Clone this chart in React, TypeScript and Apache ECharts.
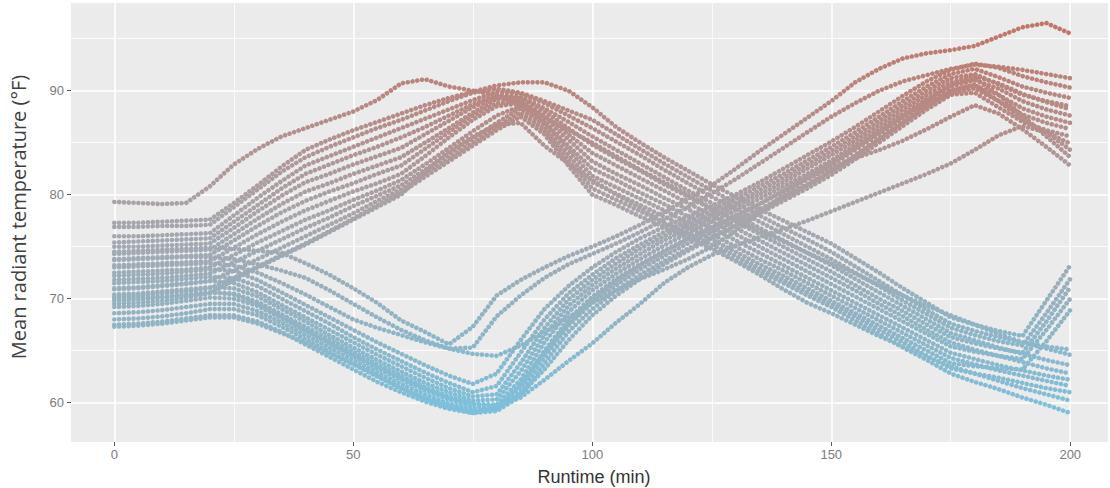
import React, { useEffect, useRef } from "react";
import * as echarts from "echarts";

// Runtime (min) sample grid
const RUNTIME = [0, 5, 10, 15, 20, 25, 30, 35, 40, 45, 50, 55, 60, 65, 70, 75, 80, 85, 90, 95, 100, 105, 110, 115, 120, 125, 130, 135, 140, 145, 150, 155, 160, 165, 170, 175, 180, 185, 190, 195, 200];

const X_TICKS = [0, 50, 100, 150, 200];
const Y_TICKS = [60, 70, 80, 90];

// Zones that warm first, then cool
const A1 = [79.3, 79.2, 79.1, 79.2, 80.8, 82.9, 84.4, 85.6, 86.4, 87.2, 88.0, 89.1, 90.7, 91.1, 90.4, 90.0, 89.6, 88.6, 87.4, 86.2, 85.0, 83.7, 82.4, 81.2, 80.0, 78.7, 77.6, 76.5, 75.5, 74.4, 73.4, 72.4, 71.3, 70.3, 69.3, 68.4, 67.5, 66.6, 65.8, 65.2, 64.6];
const A2 = [77.3, 77.3, 77.4, 77.5, 77.6, 79.2, 80.9, 82.7, 84.3, 85.3, 86.2, 87.0, 87.8, 88.6, 89.3, 89.9, 90.5, 90.8, 90.8, 90.0, 88.4, 86.5, 85.0, 83.6, 82.3, 81.0, 79.8, 78.6, 77.5, 76.4, 75.3, 73.9, 72.5, 71.0, 69.6, 68.2, 67.5, 66.9, 66.4, 69.8, 73.2];
const A3 = [76.9, 76.9, 77.0, 77.0, 77.1, 78.8, 80.5, 82.2, 83.6, 84.6, 85.5, 86.4, 87.2, 88.1, 89.0, 89.8, 90.2, 89.8, 89.0, 88.1, 87.2, 85.8, 84.4, 83.0, 81.7, 80.4, 79.2, 78.0, 76.8, 75.7, 74.5, 73.1, 71.7, 70.3, 68.9, 67.6, 66.9, 66.3, 65.8, 65.4, 65.1];
const A4 = [76.0, 76.0, 76.1, 76.2, 76.3, 78.0, 79.7, 81.3, 82.8, 83.7, 84.6, 85.5, 86.4, 87.3, 88.2, 89.1, 89.9, 89.7, 88.8, 87.6, 86.4, 85.1, 83.8, 82.4, 81.1, 79.8, 78.6, 77.4, 76.2, 75.0, 73.8, 72.5, 71.2, 69.8, 68.5, 67.2, 66.5, 65.9, 65.5, 68.6, 71.9];
const A5 = [75.4, 75.5, 75.6, 75.7, 75.8, 77.4, 79.0, 80.6, 82.0, 82.9, 83.8, 84.6, 85.5, 86.5, 87.6, 88.7, 89.6, 89.4, 88.3, 87.0, 85.6, 84.3, 83.0, 81.7, 80.4, 79.2, 78.0, 76.8, 75.6, 74.4, 73.2, 71.9, 70.6, 69.3, 68.0, 66.7, 66.0, 65.3, 64.7, 64.1, 63.6];
const A6 = [75.0, 75.0, 75.1, 75.2, 75.3, 76.8, 78.4, 79.9, 81.2, 82.0, 82.9, 83.7, 84.5, 85.8, 87.1, 88.4, 89.4, 89.3, 88.0, 86.4, 84.8, 83.5, 82.3, 81.0, 79.8, 78.6, 77.4, 76.2, 75.0, 73.8, 72.6, 71.3, 70.0, 68.8, 67.5, 66.3, 65.7, 65.2, 64.8, 67.8, 71.1];
const A7 = [74.3, 74.4, 74.5, 74.6, 74.7, 76.2, 77.7, 79.1, 80.3, 81.1, 82.0, 82.8, 83.6, 85.0, 86.4, 87.9, 89.2, 89.0, 87.6, 85.8, 84.0, 82.8, 81.6, 80.4, 79.2, 78.0, 76.8, 75.6, 74.4, 73.2, 72.0, 70.8, 69.5, 68.3, 67.0, 65.8, 65.1, 64.5, 63.9, 63.3, 62.8];
const A8 = [73.8, 73.9, 74.0, 74.1, 74.2, 75.6, 77.0, 78.3, 79.4, 80.3, 81.1, 82.0, 82.8, 84.4, 86.0, 87.6, 88.8, 89.0, 87.4, 85.3, 83.2, 82.0, 80.9, 79.7, 78.6, 77.4, 76.2, 75.0, 73.8, 72.6, 71.4, 70.2, 69.0, 67.8, 66.6, 65.4, 64.9, 64.5, 64.2, 67.0, 70.0];
const A9 = [73.2, 73.3, 73.4, 73.5, 73.6, 74.9, 76.2, 77.4, 78.5, 79.4, 80.3, 81.1, 82.0, 83.7, 85.5, 87.2, 88.5, 88.8, 87.0, 84.7, 82.5, 81.4, 80.2, 79.1, 77.9, 76.8, 75.6, 74.4, 73.2, 72.0, 70.8, 69.6, 68.4, 67.2, 66.0, 64.8, 64.2, 63.6, 63.1, 62.6, 62.2];
const A10 = [72.5, 72.6, 72.7, 72.8, 73.0, 74.2, 75.4, 76.5, 77.6, 78.5, 79.5, 80.4, 81.4, 82.9, 84.5, 86.1, 87.6, 88.5, 86.9, 84.3, 81.8, 80.7, 79.6, 78.5, 77.3, 76.2, 75.0, 73.8, 72.7, 71.5, 70.3, 69.1, 67.9, 66.7, 65.5, 64.3, 63.7, 63.1, 62.6, 62.1, 61.6];
const A11 = [71.8, 71.9, 72.0, 72.2, 72.4, 73.5, 74.6, 75.7, 76.8, 77.8, 78.9, 79.9, 80.9, 82.4, 83.9, 85.4, 86.9, 88.3, 86.6, 83.8, 81.2, 80.1, 79.0, 77.9, 76.8, 75.7, 74.5, 73.3, 72.2, 71.0, 69.8, 68.6, 67.4, 66.2, 65.0, 63.8, 63.5, 63.3, 63.2, 65.9, 68.9];
const A12 = [70.9, 71.0, 71.2, 71.4, 71.7, 72.7, 73.8, 74.9, 76.0, 77.1, 78.2, 79.4, 80.5, 82.0, 83.5, 85.0, 86.5, 87.9, 86.2, 83.3, 80.6, 79.5, 78.4, 77.3, 76.3, 75.2, 74.1, 72.9, 71.8, 70.6, 69.5, 68.3, 67.0, 65.8, 64.5, 63.3, 62.8, 62.4, 61.9, 61.4, 61.0];
const A13 = [70.2, 70.3, 70.5, 70.7, 71.0, 72.0, 73.1, 74.2, 75.3, 76.5, 77.7, 79.0, 80.2, 81.7, 83.2, 84.7, 86.2, 87.5, 85.8, 82.8, 80.0, 79.0, 77.9, 76.9, 75.8, 74.8, 73.7, 72.6, 71.5, 70.3, 69.2, 67.9, 66.6, 65.3, 64.1, 62.8, 62.0, 61.3, 60.5, 59.8, 59.0];
const A14 = [69.5, 69.6, 69.8, 70.1, 70.5, 71.8, 73.0, 74.1, 75.2, 76.4, 77.6, 78.8, 80.0, 82.2, 84.2, 85.6, 86.7, 86.9, 84.7, 83.0, 81.4, 80.0, 78.7, 77.3, 76.0, 74.8, 73.6, 72.3, 70.9, 69.6, 68.6, 67.5, 66.4, 65.4, 64.4, 63.5, 62.8, 62.1, 61.4, 60.8, 60.2];

// Zones that cool first, then warm
const B1 = [74.5, 74.6, 74.7, 74.8, 74.9, 74.8, 74.6, 74.4, 73.4, 72.3, 71.0, 69.6, 67.9, 66.8, 65.6, 67.3, 70.3, 71.8, 73.0, 74.1, 75.0, 76.0, 77.1, 78.3, 79.6, 80.9, 82.5, 84.2, 85.8, 87.4, 89.0, 90.8, 92.1, 93.1, 93.6, 93.9, 94.3, 95.2, 96.1, 96.5, 95.5];
const B2 = [73.7, 73.8, 73.9, 74.0, 74.0, 73.8, 73.3, 72.7, 72.0, 70.8, 69.5, 68.2, 67.0, 66.0, 65.2, 65.3, 68.3, 70.3, 72.0, 73.3, 74.3, 75.3, 76.4, 77.6, 78.8, 80.1, 81.5, 83.0, 84.5, 86.0, 87.5, 88.8, 90.0, 90.9, 91.5, 92.1, 92.5, 92.3, 92.0, 91.6, 91.2];
const B3 = [72.2, 72.3, 72.4, 72.6, 72.8, 72.7, 71.8, 70.6, 69.4, 68.2, 67.0, 65.8, 64.7, 63.6, 62.6, 61.8, 62.8, 66.0, 69.0, 71.2, 73.0, 74.5, 75.8, 76.9, 77.9, 78.9, 80.0, 81.2, 82.5, 83.8, 85.1, 86.5, 88.0, 89.5, 90.9, 92.0, 92.6, 92.2, 91.4, 90.8, 90.3];
const B4 = [71.5, 71.6, 71.7, 71.9, 72.1, 72.0, 71.2, 70.0, 68.8, 67.6, 66.3, 65.1, 64.0, 62.9, 61.9, 61.0, 61.6, 64.8, 68.0, 70.5, 72.3, 73.9, 75.2, 76.4, 77.5, 78.5, 79.6, 80.8, 82.0, 83.3, 84.6, 86.0, 87.5, 89.0, 90.4, 91.6, 92.1, 91.3, 90.4, 89.8, 89.3];
const B5 = [71.0, 71.1, 71.3, 71.5, 71.7, 71.5, 70.6, 69.4, 68.2, 67.0, 65.8, 64.6, 63.5, 62.4, 61.4, 60.6, 60.8, 63.8, 67.2, 69.9, 71.8, 73.4, 74.8, 76.0, 77.1, 78.1, 79.2, 80.4, 81.6, 82.9, 84.2, 85.6, 87.1, 88.6, 90.0, 91.2, 91.6, 90.6, 89.6, 89.0, 88.5];
const B6 = [70.4, 70.5, 70.7, 70.9, 71.1, 71.0, 70.2, 69.0, 67.8, 66.5, 65.3, 64.1, 63.0, 61.9, 61.0, 60.2, 60.3, 63.0, 66.5, 69.3, 71.3, 72.9, 74.3, 75.6, 76.7, 77.8, 78.9, 80.0, 81.2, 82.5, 83.8, 85.2, 86.7, 88.2, 89.6, 90.8, 91.4, 90.7, 89.7, 88.9, 88.2];
const B7 = [69.8, 69.9, 70.1, 70.3, 70.6, 70.5, 69.7, 68.5, 67.3, 66.1, 64.9, 63.7, 62.6, 61.5, 60.6, 59.9, 59.8, 62.2, 65.8, 68.7, 70.8, 72.4, 73.8, 75.1, 76.3, 77.4, 78.5, 79.6, 80.8, 82.0, 83.3, 84.8, 86.3, 87.8, 89.2, 90.4, 91.0, 90.2, 89.0, 88.2, 87.6];
const B8 = [69.2, 69.3, 69.5, 69.8, 70.1, 70.0, 69.3, 68.1, 66.9, 65.7, 64.5, 63.3, 62.2, 61.2, 60.3, 59.6, 59.4, 61.5, 65.0, 68.0, 70.2, 71.9, 73.3, 74.6, 75.8, 76.9, 78.0, 79.1, 80.3, 81.5, 82.8, 84.3, 85.8, 87.4, 88.8, 90.0, 90.5, 89.6, 88.3, 87.5, 86.9];
const B9 = [68.6, 68.7, 68.9, 69.2, 69.5, 69.5, 68.8, 67.7, 66.5, 65.3, 64.1, 62.9, 61.8, 60.8, 59.9, 59.3, 59.2, 61.0, 64.4, 67.4, 69.6, 71.3, 72.8, 74.1, 75.3, 76.4, 77.5, 78.6, 79.8, 81.0, 82.3, 83.8, 85.4, 87.0, 88.5, 89.8, 90.2, 89.0, 87.7, 86.9, 86.3];
const B10 = [68.0, 68.1, 68.3, 68.6, 69.0, 69.0, 68.4, 67.3, 66.1, 64.9, 63.7, 62.5, 61.4, 60.4, 59.6, 59.0, 59.2, 60.6, 63.8, 66.8, 69.0, 70.8, 72.3, 73.6, 74.8, 75.9, 77.0, 78.2, 79.4, 80.6, 81.9, 83.4, 85.0, 86.6, 88.2, 89.6, 89.8, 88.4, 87.0, 86.2, 85.6];
const B11 = [67.5, 67.6, 67.8, 68.1, 68.4, 68.4, 67.8, 66.8, 65.6, 64.4, 63.2, 62.0, 61.0, 60.1, 59.4, 59.0, 59.5, 60.8, 63.2, 66.0, 68.4, 70.3, 71.9, 73.3, 74.6, 75.8, 77.0, 78.3, 79.6, 80.9, 82.2, 83.7, 85.3, 86.9, 88.5, 90.0, 90.6, 89.0, 87.2, 86.0, 84.9];
const B12 = [67.3, 67.4, 67.6, 67.9, 68.2, 68.2, 67.6, 66.7, 65.8, 64.7, 63.7, 62.6, 61.4, 60.5, 59.8, 59.2, 59.6, 61.8, 64.8, 67.6, 69.9, 71.7, 73.2, 74.5, 75.7, 76.8, 77.9, 79.1, 80.4, 81.7, 83.0, 84.5, 86.0, 87.5, 89.0, 90.6, 91.2, 89.6, 87.6, 85.6, 83.6];
const B13 = [70.0, 70.1, 70.2, 70.4, 70.6, 70.4, 69.5, 68.3, 67.0, 65.8, 64.6, 63.5, 62.4, 61.4, 60.5, 59.9, 59.6, 60.5, 62.2, 64.0, 65.7, 67.7, 69.5, 71.5, 73.0, 74.2, 75.1, 75.9, 76.7, 77.5, 78.4, 79.3, 80.2, 81.1, 82.0, 83.0, 84.3, 85.7, 86.6, 86.0, 84.3];
const B14 = [73.0, 73.1, 73.2, 73.3, 73.4, 73.2, 72.5, 71.5, 70.4, 69.2, 68.0, 67.2, 66.5, 65.8, 65.2, 64.7, 64.5, 65.5, 66.8, 68.2, 69.6, 70.8, 71.9, 72.8, 73.8, 75.0, 76.5, 78.2, 80.0, 81.5, 82.6, 83.5, 84.3, 85.2, 86.3, 87.5, 88.6, 87.8, 86.3, 84.6, 82.8];

const ZONES = [A1, A2, A3, A4, A5, A6, A7, A8, A9, A10, A11, A12, A13, A14, B1, B2, B3, B4, B5, B6, B7, B8, B9, B10, B11, B12, B13, B14];
const ZONE_NAMES = ["A1", "A2", "A3", "A4", "A5", "A6", "A7", "A8", "A9", "A10", "A11", "A12", "A13", "A14", "B1", "B2", "B3", "B4", "B5", "B6", "B7", "B8", "B9", "B10", "B11", "B12", "B13", "B14"];

export default function App() {
  const ref = useRef<HTMLDivElement>(null);

  useEffect(() => {
    if (!ref.current) return;
    const chart = echarts.init(ref.current, null, { renderer: "svg" });

    const series = ZONES.map((vals, k) => ({
      type: "line",
      name: ZONE_NAMES[k],
      data: RUNTIME.map((t, i) => [t, vals[i]]),
      showSymbol: false,
      symbol: "none",
      silent: true,
      clip: true,
      emphasis: { disabled: true },
      lineStyle: { width: 4.6, type: [0.01, 4.8], cap: "round" },
    }));

    const tickLabel = {
      color: "#7b7b7b",
      fontSize: 13,
      fontFamily: "Liberation Sans",
    };

    chart.setOption({
      animation: false,
      backgroundColor: "#ffffff",
      grid: {
        left: 71,
        right: 2,
        top: 3,
        bottom: 46,
        show: true,
        backgroundColor: "#EBEBEB",
        borderWidth: 0,
        containLabel: false,
        outerBoundsMode: "none",
      },
      visualMap: {
        type: "continuous",
        show: false,
        min: 59,
        max: 96.6,
        dimension: 1,
        seriesIndex: ZONES.map((_, i) => i),
        inRange: { color: ["#7cc0db", "#a7a5ab", "#c27567"] },
      },
      xAxis: {
        type: "value",
        min: -9.06,
        max: 207.9,
        minInterval: 50,
        maxInterval: 50,
        axisLine: { show: false, onZero: false },
        axisTick: {
          show: true,
          length: 4,
          customValues: X_TICKS,
          lineStyle: { color: "#555555", width: 1 },
        },
        axisLabel: { ...tickLabel, margin: 6, customValues: X_TICKS },
        splitLine: { show: true, lineStyle: { color: "#ffffff", width: 1.6 } },
        minorTick: { show: false, splitNumber: 2 },
        minorSplitLine: { show: true, lineStyle: { color: "#ffffff", width: 0.8 } },
      },
      yAxis: {
        type: "value",
        min: 56.22,
        max: 98.43,
        minInterval: 10,
        maxInterval: 10,
        axisLine: { show: false, onZero: false },
        axisTick: {
          show: true,
          length: 4,
          customValues: Y_TICKS,
          lineStyle: { color: "#555555", width: 1 },
        },
        axisLabel: { ...tickLabel, margin: 7, customValues: Y_TICKS },
        splitLine: { show: true, lineStyle: { color: "#ffffff", width: 1.6 } },
        minorTick: { show: false, splitNumber: 2 },
        minorSplitLine: { show: true, lineStyle: { color: "#ffffff", width: 0.8 } },
      },
      graphic: [
        {
          type: "text",
          x: 18,
          y: 217,
          rotation: Math.PI / 2,
          silent: true,
          style: {
            text: "Mean radiant temperature (°F)",
            fontSize: 20,
            fontFamily: "Open Sans",
            fill: "#404040",
            align: "center",
            verticalAlign: "middle",
            textAlign: "center",
            textVerticalAlign: "middle",
          },
        },
        {
          type: "text",
          x: 594,
          y: 477,
          silent: true,
          style: {
            text: "Runtime (min)",
            fontSize: 18,
            fontFamily: "Liberation Sans",
            fill: "#333333",
            align: "center",
            verticalAlign: "middle",
            textAlign: "center",
            textVerticalAlign: "middle",
          },
        },
      ],
      series,
    });

    return () => {
      chart.dispose();
    };
  }, []);

  return (
    <div
      ref={ref}
      style={{ position: "absolute", left: 0, top: 0, width: 1110, height: 488, background: "#ffffff" }}
    />
  );
}
